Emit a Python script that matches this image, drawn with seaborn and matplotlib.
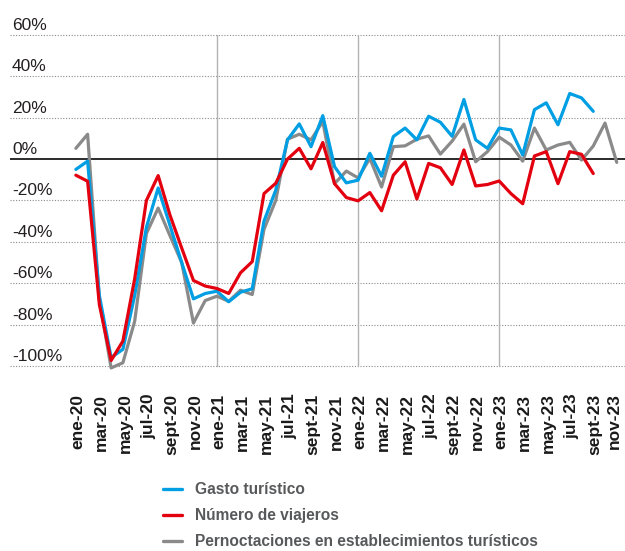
import numpy as np
import pandas as pd
import matplotlib.pyplot as plt
import matplotlib.transforms as mtransforms
from matplotlib.lines import Line2D
import seaborn as sns

# --- Data (variación interanual, %) ene-20 .. nov-23 ---
meses = ['ene', 'feb', 'mar', 'abr', 'may', 'jun', 'jul', 'ago', 'sept', 'oct', 'nov', 'dic']
anios = ['20', '21', '22', '23']

gasto = [-5, -1, -66, -96, -92, -66, -33, -14, -32, -50, -67.6, -65,
         -63.9, -69, -64.4, -62.7, -30, -15, 9.3, 17, 6, 21, -3.7, -11.5,
         -10.2, 2.8, -8.3, 10.9, 15, 9.3, 20.7, 17.8, 11, 28.8, 9.3, 5.2,
         15, 14.1, 2, 23.9, 27.2, 16.6, 31.7, 29.6, 23.1]

viajeros = [-7.8, -10.7, -70.4, -97.4, -88, -58, -20, -8, -27, -43, -58.7, -61.4,
            -62.6, -65, -55, -49.6, -16.7, -11.7, 0, 5.2, -4.7, 8, -11.9, -18.6,
            -20.2, -16.2, -25, -7.8, -1.3, -19.3, -2.1, -4.2, -12.3, 4.4, -13, -12.3,
            -10.6, -16.7, -21.6, 1.5, 3.6, -11.9, 3.6, 2.3, -7]

pernoctaciones = [5.2, 12, -68, -101, -98.5, -78.5, -36, -23.7, -37, -50, -79.3, -68.4,
                  -66.3, -68.8, -63.4, -65.5, -34, -20, 9.6, 12, 9.3, 18.2, -11.9, -5.8,
                  -9.1, 0.3, -13.5, 6, 6.4, 9.6, 11.2, 2.4, 8.7, 16.9, -1.3, 3.6,
                  10.6, 6.8, -1, 15, 4.4, 6.8, 8.1, -0.5, 6.3, 17.4, -1.6]

series = ['Gasto turístico', 'Número de viajeros', 'Pernoctaciones en establecimientos turísticos']
colores = ['#009ee2', '#e3000f', '#8a8a8a']
y_ticks = [60, 40, 20, 0, -20, -40, -60, -80, -100]

etiquetas = [f'{m}-{a}' for a in anios for m in meses][:47]

rows = []
for nombre, vals in zip(series, [gasto, viajeros, pernoctaciones]):
    for i, v in enumerate(vals):
        rows.append({'mes': i, 'valor': v, 'serie': nombre})
df = pd.DataFrame(rows)

# --- Plot ---
sns.set_style('white')
plt.rcParams['font.family'] = ['Liberation Sans', 'DejaVu Sans']

fig = plt.figure(figsize=(6.25, 5.51), dpi=100)
ax = fig.add_axes([10 / 625, 181 / 551, 615 / 625, 335 / 551])

# draw order: gray below, then blue, then red on top
sns.lineplot(data=df, x='mes', y='valor', hue='serie',
             hue_order=[series[2], series[0], series[1]],
             palette=[colores[2], colores[0], colores[1]],
             linewidth=2.3, legend=False, ax=ax, zorder=3)

ax.set_xlim(-5.6, 46.7)
ax.set_ylim(-102, 60)

for v in y_ticks:
    if v == 0:
        ax.axhline(v, color='#1a1a1a', lw=1.3, zorder=2)
    else:
        ax.axhline(v, color='#8c8c8c', lw=0.8, ls=(0, (1, 1.5)), zorder=1, clip_on=False)
    ax.annotate(f'{v}%', xy=(0, v), xycoords=('axes fraction', 'data'),
                xytext=(2, 5), textcoords='offset pixels', va='baseline', ha='left',
                fontsize=12.5, color='#231f20')

# year separators
for i, lab in enumerate(etiquetas):
    if lab.startswith('ene') and i > 0:
        ax.plot([i, i], [-100, 60], color='#b3b3b3', lw=1.0, zorder=1)

ticks = list(range(0, 47, 2))
ax.set_xticks(ticks)
ax.set_xticklabels([etiquetas[i] for i in ticks], rotation=90, fontweight='bold',
                   fontsize=12.5, color='#1a1a1a')
ax.tick_params(axis='x', length=0, pad=17)
ax.set_yticks([])
ax.set_xlabel('')
ax.set_ylabel('')
xlabels = ax.get_xticklabels()
for k, lab in enumerate(xlabels):
    dx = 2 if k < len(xlabels) - 1 else -2   # keep the last label inside the figure
    lab.set_transform(lab.get_transform() + mtransforms.ScaledTranslation(dx / 100, 0, fig.dpi_scale_trans))
sns.despine(ax=ax, left=True, bottom=True)

handles = [Line2D([0], [0], color=c, lw=2.4) for c in colores]
leg = fig.legend(handles, series, loc='upper left', bbox_to_anchor=(163 / 625, 1 - 482 / 551),
                 frameon=False, borderaxespad=0, borderpad=0, handlelength=1.25,
                 handletextpad=0.8, labelspacing=0.72,
                 prop={'weight': 'bold', 'size': 11.2})
for t in leg.get_texts():
    t.set_color('#58595b')

plt.savefig('out.png', dpi=100)
